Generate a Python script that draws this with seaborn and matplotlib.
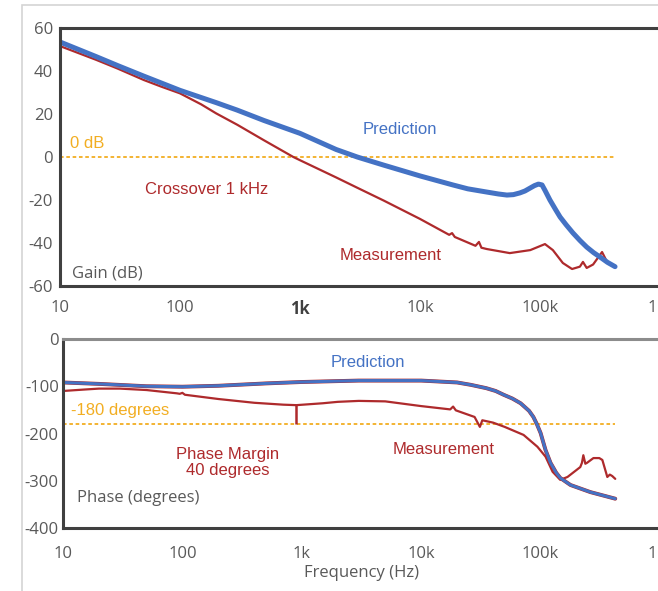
import pandas as pd
import matplotlib
matplotlib.use('Agg')
import matplotlib.pyplot as plt
import seaborn as sns
from matplotlib.patches import Rectangle

# Bode plot values
pred_gain_freq = [10, 20, 30, 50, 100, 200, 300, 500, 1000, 2000, 3000, 5000, 10000,
                  18800, 25000, 36000, 45000, 53000, 60000, 68000, 75000, 83000, 90000,
                  97000, 104000, 110000, 121000, 135000, 147000, 165000, 188000, 215000,
                  245000, 280000, 316000, 365000, 422000]
pred_gain_db = [53.5, 46.7, 42.6, 37.6, 31, 25.3, 21.8, 17, 11, 3.5, 0, -3.8, -8.8,
                -13, -14.8, -16.3, -17.2, -17.7, -17.5, -16.7, -15.8, -14.4, -13.3,
                -12.6, -13, -15.5, -20, -24.5, -27.9, -31.5, -35.3, -38.8,
                -41.9, -44.5, -46.5, -49, -51]

meas_gain_freq = [10, 20, 30, 50, 70, 100, 150, 200, 300, 500, 880, 1000, 2000, 3000, 5000,
                  10000, 17500, 18500, 19500, 29000, 31000, 32500, 36000, 56000, 83000,
                  110000, 128000, 155000, 185000, 215000, 228000, 245000, 277000, 329000,
                  362000, 398000, 422000]
meas_gain_db = [51.6, 45.2, 41.2, 35.8, 32.7, 29.6, 24.5, 20.3, 15, 7.8, 0, -1.5, -9.5, -14.3,
                -20.3, -28.8, -36.2, -35.4, -37.2, -41.3, -39.5, -42.2, -42.8, -44.7, -43.3,
                -40.5, -43.3, -49.3, -52.1, -51, -48.8, -51.6, -50, -44.2,
                -48.8, -50, -50.7]

pred_phase_freq = [10, 20, 50, 100, 200, 500, 1000, 3000, 10000, 20000, 26000, 35000, 42000,
                   49000, 58000, 68000, 80000, 87000, 93000, 100000, 110000, 121000, 135000,
                   146000, 178000, 261000, 422000]
pred_phase_deg = [-92, -95, -100, -101, -99, -94, -91, -88, -88, -92, -97, -104, -110,
                  -118, -126, -136, -152, -165, -180, -199, -235, -262, -283,
                  -294, -309, -324, -338]

meas_phase_freq = [10, 15, 20, 30, 50, 90, 95, 100, 105, 200, 400, 700, 900, 1500, 2000, 3000,
                   5000, 10000, 17500, 18500, 19500, 28000, 31000, 32500, 40000, 50000,
                   72000, 94000, 110000, 126000, 146000, 168000, 215000, 222000, 228000,
                   237000, 245000, 277000, 310000, 329000, 362000, 380000, 398000, 422000]
meas_phase_deg = [-110, -107, -105, -105, -108, -115, -116, -114, -118, -127, -135, -139, -140,
                  -136, -133, -131, -132, -142, -149, -143, -151, -165, -186, -172, -177, -186,
                  -203, -228, -249, -281, -298, -292, -271, -262, -246,
                  -264, -262, -252, -252, -256, -292, -287, -290, -296]

x_ticks = [10, 100, 1000, 10000, 100000, 1000000]
x_tick_labels = ['10', '100', '1k', '10k', '100k', '1M']
gain_ticks = [60, 40, 20, 0, -20, -40, -60]
phase_ticks = [0, -100, -200, -300, -400]
gain_ref = 0
phase_ref = -180
margin_freq = 900
margin_top = -140
f_start, f_end = 10, 422000

blue = '#4472C4'
red = '#AE2A2C'
orange = '#F2AE22'
grey = '#595959'

sns.set_style('white')
plt.rcParams['font.family'] = ['Open Sans', 'DejaVu Sans']
plt.rcParams['lines.solid_joinstyle'] = 'round'
plt.rcParams['axes.unicode_minus'] = False
arial = ['Liberation Sans', 'DejaVu Sans']

fig = plt.figure(figsize=(6.58, 5.91), dpi=100)
fig.add_artist(Rectangle((22 / 658, -0.1), 1.2, 586 / 591 + 0.1, transform=fig.transFigure,
                         fill=False, edgecolor='#d4d4d4', lw=1.2, zorder=0))

ax1 = fig.add_axes([60 / 658, 305 / 591, 600 / 658, 258 / 591])
ax2 = fig.add_axes([63 / 658, 63 / 591, 597 / 658, 189 / 591])

gain_pred = pd.DataFrame({'f': pred_gain_freq, 'v': pred_gain_db})
gain_meas = pd.DataFrame({'f': meas_gain_freq, 'v': meas_gain_db})
phase_pred = pd.DataFrame({'f': pred_phase_freq, 'v': pred_phase_deg})
phase_meas = pd.DataFrame({'f': meas_phase_freq, 'v': meas_phase_deg})

for ax in (ax1, ax2):
    ax.set_xscale('log')
    ax.set_facecolor('white')

# Gain
ax1.hlines(gain_ref, f_start, f_end, colors=orange, linestyles=(0, (2, 1.5)), lw=1.3)
sns.lineplot(data=gain_meas, x='f', y='v', color=red, lw=1.6, sort=False, estimator=None, ax=ax1)
sns.lineplot(data=gain_pred, x='f', y='v', color=blue, lw=3.6, sort=False, estimator=None, ax=ax1)
ax1.set_ylim(-60, 60)
ax1.set_yticks(gain_ticks)

ax1.text(12.1, 6.5, '0 dB', color=orange, fontsize=12, family=arial, va='center')
ax1.text(6800, 12.6, 'Prediction', color=blue, fontsize=12, family=arial, ha='center', va='center')
ax1.text(168, -15.3, 'Crossover 1 kHz', color=red, fontsize=12, family=arial, ha='center', va='center')
ax1.text(5700, -45.6, 'Measurement', color=red, fontsize=12, family=arial, ha='center', va='center')
ax1.text(12.6, -54, 'Gain (dB)', color=grey, fontsize=12, va='center')

# Phase
ax2.hlines(phase_ref, f_start, f_end, colors=orange, linestyles=(0, (2, 1.5)), lw=1.3)
ax2.vlines(margin_freq, phase_ref, margin_top, colors=red, lw=1.8)
sns.lineplot(data=phase_meas, x='f', y='v', color=red, lw=1.6, sort=False, estimator=None, ax=ax2)
sns.lineplot(data=phase_pred, x='f', y='v', color=red, lw=2.8, sort=False, estimator=None, ax=ax2)
sns.lineplot(data=phase_pred, x='f', y='v', color=blue, lw=2.2, sort=False, estimator=None, ax=ax2)
ax2.set_ylim(-400, 0)
ax2.set_yticks(phase_ticks)

ax2.text(11.7, -152, '-180 degrees', color=orange, fontsize=12, family=arial, va='center')
ax2.text(3600, -49, 'Prediction', color=blue, fontsize=12, family=arial, ha='center', va='center')
ax2.text(241, -261, 'Phase Margin\n40 degrees', color=red, fontsize=12, family=arial,
         ha='center', va='center', multialignment='center', linespacing=1.05)
ax2.text(15300, -233, 'Measurement', color=red, fontsize=12, family=arial, ha='center', va='center')
ax2.text(13.1, -336, 'Phase (degrees)', color=grey, fontsize=12, va='center')

for ax in (ax1, ax2):
    ax.set_xlim(10, 1e6)
    ax.set_xticks(x_ticks)
    ax.set_xticklabels(x_tick_labels)
    ax.minorticks_off()
    ax.set_ylabel('')
    ax.tick_params(length=0, labelsize=12, labelcolor=grey)
    ax.spines['right'].set_visible(False)
    for s in ('top', 'left', 'bottom'):
        ax.spines[s].set_color('#404040')
        ax.spines[s].set_linewidth(2.2)

ax1.tick_params(axis='x', pad=10)
ax1.tick_params(axis='y', pad=5)
ax1.get_xticklabels()[2].set_fontweight('bold')
ax1.get_xticklabels()[2].set_color('#404040')
ax1.set_xlabel('')

ax2.spines['top'].set_color('#8c8c8c')
ax2.tick_params(axis='x', pad=13)
ax2.tick_params(axis='y', pad=3)
ax2.set_xlabel('Frequency (Hz)', fontsize=12, color=grey, labelpad=2)

fig.savefig('out.png', dpi=100, facecolor='white')
